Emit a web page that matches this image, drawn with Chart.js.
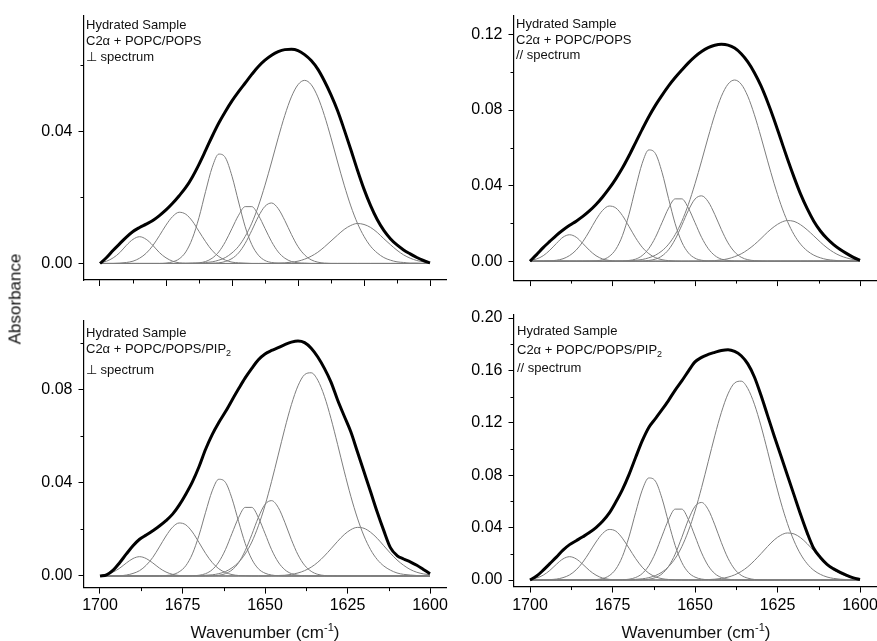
<!DOCTYPE html>
<html>
<head>
<meta charset="utf-8">
<script src="https://cdn.jsdelivr.net/npm/chart.js@4.4.1/dist/chart.umd.min.js"></script>
<style>
  html, body { margin: 0; padding: 0; background: #fff; }
  body { width: 877px; height: 641px; position: relative; overflow: hidden; font-family: 'Liberation Sans', Arial, sans-serif; }
  canvas { position: absolute; left: 0; top: 0; }
  .t { position: absolute; font-size: 13px; line-height: 16px; color: #111; white-space: nowrap; }
  .sub { font-size: 9px; position: relative; top: 3px; }
  .ax { position: absolute; font-size: 17px; line-height: 17px; color: #111; white-space: nowrap; }
  .ax sup { font-size: 11px; line-height: 0; }
</style>
</head>
<body>
<canvas id="c1" width="900" height="641"></canvas>
<canvas id="c2" width="900" height="641"></canvas>
<canvas id="c3" width="900" height="641"></canvas>
<canvas id="c4" width="900" height="641"></canvas>

<div class="t" style="left:86px;top:17px">Hydrated Sample</div>
<div class="t" style="left:86px;top:33px">C2α + POPC/POPS</div>
<div class="t" style="left:86px;top:49px">⊥ spectrum</div>

<div class="t" style="left:516px;top:16px">Hydrated Sample</div>
<div class="t" style="left:516px;top:31.5px">C2α + POPC/POPS</div>
<div class="t" style="left:516px;top:47px">// spectrum</div>

<div class="t" style="left:86px;top:324.5px">Hydrated Sample</div>
<div class="t" style="left:86px;top:341px">C2α + POPC/POPS/PIP<span class="sub">2</span></div>
<div class="t" style="left:86px;top:362px">⊥ spectrum</div>

<div class="t" style="left:517px;top:323px">Hydrated Sample</div>
<div class="t" style="left:517px;top:341.5px">C2α + POPC/POPS/PIP<span class="sub">2</span></div>
<div class="t" style="left:517px;top:360px">// spectrum</div>

<div class="ax" style="left:15px;top:299px;transform:translate(-50%,-50%) rotate(-90deg)">Absorbance</div>
<div class="ax" style="left:265px;top:624px;transform:translateX(-50%)">Wavenumber (cm<sup>-1</sup>)</div>
<div class="ax" style="left:696px;top:624px;transform:translateX(-50%)">Wavenumber (cm<sup>-1</sup>)</div>

<script>
// wavenumber grid, cm-1 (every 2 cm-1, high to low)
const wn = [1700,1698,1696,1694,1692,1690,1688,1686,1684,1682,
  1680,1678,1676,1674,1672,1670,1668,1666,1664,1662,
  1660,1658,1656,1654,1652,1650,1648,1646,1644,1642,
  1640,1638,1636,1634,1632,1630,1628,1626,1624,1622,
  1620,1618,1616,1614,1612,1610,1608,1606,1604,1602,
  1600];
const zeroX = [1700, 1600];
const zeroY = [0, 0];

// ---- C2a + POPC/POPS, perpendicular ----
const psPerp = [0,.0018,.004,.006,.008,.0097,.0109,.0119,.013,.0145,
  .0162,.0182,.0205,.023,.0262,.03,.0342,.0385,.0425,.046,
  .0492,.052,.0546,.0572,.0596,.0615,.063,.0641,.0647,.0648,
  .0644,.0632,.0614,.0588,.0552,.051,.0462,.0405,.0345,.0283,
  .0225,.0175,.0133,.01,.0075,.0056,.0041,.0029,.0018,.0009,
  .0002];
const psPerpBands = [
  [.0002,.0007,.0017,.0033,.0055,.0073,.0081,.0073,.0055,.0033,
   .0017,.0007,.0002,.0001,0,0,0,0,0,0,
   0,0,0,0,0,0,0,0,0,0, 0,0,0,0,0,0,0,0,0,0, 0,0,0,0,0,0,0,0,0,0, 0],
  [0,0,0,.0001,.0003,.0007,.0016,.0031,.0054,.0084,
   .0116,.0142,.0155,.0149,.0128,.0097,.0066,.0039,.0021,.001,
   .0004,.0002,.0001,0,0,0,0,0,0,0,
   0,0,0,0,0,0,0,0,0,0, 0,0,0,0,0,0,0,0,0,0, 0],
  [0,0,0,0,0,0,0,0,0,0,
   .0001,.0005,.0014,.0035,.0076,.0139,.0218,.0291,.0331,.032,
   .0264,.0186,.0111,.0057,.0025,.0009,.0003,.0001,0,0,
   0,0,0,0,0,0,0,0,0,0, 0,0,0,0,0,0,0,0,0,0, 0],
  [0,0,0,0,0,0,0,0,0,0,
   0,0,0,0,.0001,.0002,.0006,.0016,.0035,.0066,
   .0106,.0146,.0172,.0172,.0146,.0106,.0066,.0035,.0016,.0006,
   .0002,.0001,0,0,0,0,0,0,0,0,
   0,0,0,0,0,0,0,0,0,0, 0],
  [0,0,0,0,0,0,0,0,0,0,
   0,0,0,0,0,0,0,.0001,.0002,.0006,
   .0015,.0032,.0061,.01,.0142,.0173,.0183,.0166,.013,.0088,
   .0051,.0026,.0011,.0004,.0001,0,0,0,0,0,
   0,0,0,0,0,0,0,0,0,0, 0],
  [0,0,0,0,0,0,0,0,0,0,
   0,0,0,0,.0001,.0001,.0003,.0005,.001,.0018,
   .0032,.0052,.0082,.0122,.0174,.0237,.0307,.038,.0448,.0504,
   .0541,.0554,.0541,.0504,.0448,.038,.0307,.0237,.0174,.0122,
   .0082,.0052,.0032,.0018,.001,.0005,.0003,.0001,.0001,0,
   0],
  [0,0,0,0,0,0,0,0,0,0, 0,0,0,0,0,0,0,0,0,0,
   0,0,0,0,0,0,0,.0001,.0002,.0004,
   .0007,.0013,.0022,.0034,.005,.0068,.0086,.0103,.0115,.0121,
   .0118,.0109,.0094,.0075,.0057,.004,.0026,.0016,.0009,.0005,
   .0003]
];

// ---- C2a + POPC/POPS, parallel ----
const psPar = [0,.0035,.0072,.0105,.0137,.0165,.019,.0212,.0237,.0266,
  .03,.034,.0385,.0436,.0493,.0558,.0628,.0698,.0765,.0825,
  .0878,.0928,.0972,.1012,.105,.1083,.111,.113,.1143,.1148,
  .1144,.1128,.1098,.1055,.0998,.0928,.0843,.0748,.0645,.0542,
  .0445,.0355,.0278,.0212,.016,.012,.0088,.0062,.004,.002,
  .0004];
const psParBands = [
  [.0004,.0012,.0029,.0058,.0094,.0127,.014,.0127,.0094,.0058,
   .0029,.0012,.0004,.0001,0,0,0,0,0,0,
   0,0,0,0,0,0,0,0,0,0, 0,0,0,0,0,0,0,0,0,0, 0,0,0,0,0,0,0,0,0,0, 0],
  [0,0,.0001,.0002,.0005,.0013,.003,.0059,.0103,.0159,
   .022,.0269,.0292,.0282,.0242,.0184,.0124,.0074,.004,.0019,
   .0008,.0003,.0001,0,0,0,0,0,0,0,
   0,0,0,0,0,0,0,0,0,0, 0,0,0,0,0,0,0,0,0,0, 0],
  [0,0,0,0,0,0,0,0,0,.0001,
   .0002,.0008,.0025,.0063,.0135,.0248,.0388,.0518,.0589,.057,
   .0471,.0331,.0198,.0101,.0044,.0016,.0005,.0001,0,0,
   0,0,0,0,0,0,0,0,0,0, 0,0,0,0,0,0,0,0,0,0, 0],
  [0,0,0,0,0,0,0,0,0,0,
   0,0,0,0,.0001,.0004,.0011,.003,.0067,.0126,
   .0204,.0281,.033,.033,.0281,.0204,.0126,.0067,.003,.0011,
   .0004,.0001,0,0,0,0,0,0,0,0,
   0,0,0,0,0,0,0,0,0,0, 0],
  [0,0,0,0,0,0,0,0,0,0,
   0,0,0,0,0,0,0,.0001,.0004,.0011,
   .0028,.0061,.0116,.019,.0269,.0329,.0346,.0315,.0247,.0167,
   .0097,.0049,.0021,.0008,.0003,.0001,0,0,0,0,
   0,0,0,0,0,0,0,0,0,0, 0],
  [0,0,0,0,0,0,0,0,0,0,
   0,0,0,0,.0001,.0002,.0005,.0009,.0018,.0032,
   .0055,.009,.0141,.0211,.0301,.041,.0531,.0657,.0775,.0873,
   .0937,.0959,.0937,.0873,.0775,.0657,.0531,.041,.0301,.0211,
   .0141,.009,.0055,.0032,.0018,.0009,.0005,.0002,.0001,0,
   0],
  [0,0,0,0,0,0,0,0,0,0, 0,0,0,0,0,0,0,0,0,0,
   0,0,0,0,0,0,.0001,.0002,.0003,.0007,
   .0013,.0024,.0039,.0061,.0088,.012,.0154,.0183,.0205,.0215,
   .0211,.0193,.0166,.0134,.0101,.0071,.0047,.0029,.0017,.0009,
   .0005]
];

// ---- C2a + POPC/POPS/PIP2, perpendicular ----
const pipPerp = [0,.0005,.0025,.0058,.0095,.013,.0158,.0176,.0195,.0215,
  .0238,.0266,.0305,.0352,.0405,.047,.0545,.0608,.066,.0706,
  .0756,.0805,.0852,.0893,.093,.0955,.097,.0982,.0995,.1006,
  .1011,.1004,.098,.0942,.0893,.0834,.0757,.0688,.062,.0534,
  .0448,.0362,.0275,.0195,.0122,.0088,.0073,.0061,.0046,.0028,
  .001];
const pipPerpBands = [
  [.0002,.0007,.0017,.0034,.0056,.0075,.0083,.0075,.0056,.0034,
   .0017,.0007,.0002,.0001,0,0,0,0,0,0,
   0,0,0,0,0,0,0,0,0,0, 0,0,0,0,0,0,0,0,0,0, 0,0,0,0,0,0,0,0,0,0, 0],
  [0,0,0,.0001,.0004,.0011,.0023,.0046,.008,.0125,
   .0172,.021,.0228,.022,.0189,.0144,.0097,.0058,.0031,.0015,
   .0006,.0002,.0001,0,0,0,0,0,0,0,
   0,0,0,0,0,0,0,0,0,0, 0,0,0,0,0,0,0,0,0,0, 0],
  [0,0,0,0,0,0,0,0,0,0,
   .0002,.0006,.0018,.0044,.0095,.0175,.0274,.0366,.0416,.0403,
   .0333,.0234,.014,.0072,.0031,.0012,.0004,.0001,0,0,
   0,0,0,0,0,0,0,0,0,0, 0,0,0,0,0,0,0,0,0,0, 0],
  [0,0,0,0,0,0,0,0,0,0,
   0,0,0,0,.0001,.0003,.001,.0027,.006,.0113,
   .0183,.0251,.0295,.0295,.0251,.0183,.0113,.006,.0027,.001,
   .0003,.0001,0,0,0,0,0,0,0,0,
   0,0,0,0,0,0,0,0,0,0, 0],
  [0,0,0,0,0,0,0,0,0,0,
   0,0,0,0,0,0,0,.0001,.0003,.001,
   .0026,.0057,.0109,.0178,.0252,.0308,.0324,.0295,.0231,.0156,
   .0091,.0046,.002,.0007,.0002,.0001,0,0,0,0,
   0,0,0,0,0,0,0,0,0,0, 0],
  [0,0,0,0,0,0,0,0,0,0,
   0,0,0,0,.0001,.0001,.0003,.0005,.001,.0019,
   .0035,.0059,.0095,.0146,.0216,.0303,.0407,.052,.0634,.0737,
   .0818,.0866,.0874,.0842,.0773,.0677,.0566,.0451,.0343,.0249,
   .0172,.0113,.0071,.0043,.0025,.0013,.0007,.0004,.0002,.0001,
   0],
  [0,0,0,0,0,0,0,0,0,0, 0,0,0,0,0,0,0,0,0,0,
   0,0,0,0,0,0,.0001,.0002,.0003,.0007,
   .0013,.0023,.0038,.0059,.0086,.0117,.0149,.0178,.0199,.0209,
   .0205,.0188,.0162,.013,.0098,.0069,.0046,.0028,.0016,.0009,
   .0005]
];

// ---- C2a + POPC/POPS/PIP2, parallel ----
const pipPar = [0,.003,.0075,.0125,.0175,.0228,.027,.03,.033,.0362,
  .04,.0448,.051,.0595,.069,.0805,.0935,.1062,.1165,.1232,
  .13,.1372,.145,.152,.1595,.1665,.17,.1722,.1738,.1752,
  .1758,.1745,.1712,.165,.155,.141,.1255,.11,.095,.08,
  .065,.05,.036,.024,.0172,.012,.0085,.0058,.0035,.0016,
  .0003];
const pipParBands = [
  [.0005,.0015,.0037,.0073,.012,.0161,.0178,.0161,.012,.0073,
   .0037,.0015,.0005,.0001,0,0,0,0,0,0,
   0,0,0,0,0,0,0,0,0,0, 0,0,0,0,0,0,0,0,0,0, 0,0,0,0,0,0,0,0,0,0, 0],
  [0,0,.0001,.0003,.0007,.0018,.0039,.0078,.0136,.0211,
   .029,.0355,.0386,.0373,.0319,.0243,.0164,.0098,.0052,.0025,
   .001,.0004,.0001,0,0,0,0,0,0,0,
   0,0,0,0,0,0,0,0,0,0, 0,0,0,0,0,0,0,0,0,0, 0],
  [0,0,0,0,0,0,0,0,0,.0001,
   .0003,.0011,.0033,.0083,.0179,.0329,.0514,.0686,.0779,.0755,
   .0623,.0438,.0263,.0134,.0058,.0022,.0007,.0002,0,0,
   0,0,0,0,0,0,0,0,0,0, 0,0,0,0,0,0,0,0,0,0, 0],
  [0,0,0,0,0,0,0,0,0,0,
   0,0,0,0,.0002,.0006,.0019,.0049,.0109,.0207,
   .0335,.0461,.0541,.0541,.0461,.0335,.0207,.0109,.0049,.0019,
   .0006,.0002,0,0,0,0,0,0,0,0,
   0,0,0,0,0,0,0,0,0,0, 0],
  [0,0,0,0,0,0,0,0,0,0,
   0,0,0,0,0,0,0,.0002,.0006,.0018,
   .0047,.0104,.0198,.0325,.046,.0562,.0592,.0538,.0421,.0285,
   .0166,.0083,.0036,.0014,.0004,.0001,0,0,0,0,
   0,0,0,0,0,0,0,0,0,0, 0],
  [0,0,0,0,0,0,0,0,0,0,
   0,0,0,0,.0001,.0002,.0005,.0009,.0018,.0034,
   .006,.0102,.0165,.0254,.0375,.0526,.0706,.0903,.1101,.128,
   .1421,.1504,.1518,.1462,.1342,.1176,.0983,.0783,.0595,.0432,
   .0299,.0197,.0124,.0074,.0043,.0023,.0012,.0006,.0003,.0001,
   .0001],
  [0,0,0,0,0,0,0,0,0,0, 0,0,0,0,0,0,0,0,0,0,
   0,0,0,0,0,0,.0001,.0003,.0006,.0012,
   .0022,.0039,.0065,.0101,.0148,.0201,.0256,.0306,.0342,.0359,
   .0352,.0323,.0277,.0223,.0168,.0119,.0079,.0049,.0028,.0015,
   .0008]
];

// axis ticks
const xMajor20 = [1700, 1680, 1660, 1640, 1620, 1600];
const xMinor20 = [1690, 1670, 1650, 1630, 1610];
const xMajor25 = [1700, 1675, 1650, 1625, 1600];
const xMinor25 = [1687.5, 1662.5, 1637.5, 1612.5];
const yMajorA = [0, 0.04];
const yMinorA = [0.02, 0.06];
const yMajorB = [0, 0.04, 0.08, 0.12];
const yMinorB = [0.02, 0.06, 0.10];
const yMajorC = [0, 0.04, 0.08];
const yMinorC = [0.02, 0.06, 0.10];
const yMajorD = [0, 0.04, 0.08, 0.12, 0.16, 0.20];
const yMinorD = [0.02, 0.06, 0.10, 0.14, 0.18];

const FONT = { family: "'Liberation Sans', Arial, sans-serif", size: 16 };

function pts(ys, xs = wn) { return xs.map((x, i) => ({ x, y: ys[i] })); }

// small unlabeled ticks between the major ones
const minorTicks = {
  id: 'minorTicks',
  afterDraw(chart, args, o) {
    const { ctx, chartArea: a, scales } = chart;
    ctx.save();
    ctx.strokeStyle = '#000';
    ctx.lineWidth = 1;
    ctx.beginPath();
    (o.x || []).forEach(v => {
      const px = Math.round(scales.x.getPixelForValue(v)) + 0.5;
      ctx.moveTo(px, a.bottom); ctx.lineTo(px, a.bottom + 3.5);
    });
    (o.y || []).forEach(v => {
      const py = Math.round(scales.y.getPixelForValue(v)) + 0.5;
      ctx.moveTo(a.left, py); ctx.lineTo(a.left - 3, py);
    });
    ctx.stroke();
    ctx.restore();
  }
};

function panel(id, o) {
  const datasets = [
    { data: pts(o.spec), borderColor: '#000', borderWidth: 3 },
    ...o.bands.map(b => ({ data: pts(b), borderColor: '#7d7d7d', borderWidth: 1 })),
    { data: pts(zeroY, zeroX), borderColor: '#8c8c8c', borderWidth: 1 }
  ];
  new Chart(document.getElementById(id), {
    type: 'line',
    data: { datasets },
    options: {
      responsive: false, animation: false, events: [],
      layout: { padding: o.pad },
      elements: { point: { radius: 0 }, line: { cubicInterpolationMode: 'monotone', fill: false } },
      plugins: { legend: { display: false }, tooltip: { enabled: false }, minorTicks: { x: o.xMinor, y: o.yMinor } },
      scales: {
        x: {
          type: 'linear', reverse: true, min: 1595, max: 1705,
          afterBuildTicks: s => { s.ticks = o.xMajor.map(value => ({ value })); },
          afterFit: s => { s.height = o.xH; },
          ticks: { callback: v => o.xLabels ? String(v) : '', font: FONT, color: '#000', padding: o.xPad, maxRotation: 0, autoSkip: false },
          grid: { drawOnChartArea: false, color: '#000', tickLength: 6 },
          border: { color: '#000', width: 1.2 }
        },
        y: {
          type: 'linear', min: o.yMin, max: o.yMax,
          afterBuildTicks: s => { s.ticks = o.yMajor.map(value => ({ value })); },
          afterFit: s => { s.width = o.yW; },
          ticks: { callback: v => v.toFixed(2), font: FONT, color: '#000', padding: 6, autoSkip: false },
          grid: { drawOnChartArea: false, color: '#000', tickLength: 5 },
          border: { color: '#000', width: 1.2 }
        }
      }
    },
    plugins: [minorTicks]
  });
}

panel('c1', { spec: psPerp, bands: psPerpBands, yMin: -0.005, yMax: 0.075,
  yMajor: yMajorA, yMinor: yMinorA, xMajor: xMajor20, xMinor: xMinor20, xLabels: false,
  pad: { left: 0, top: 11.75, right: 453.5, bottom: 341 }, yW: 83.5, xH: 20, xPad: 2 });
panel('c2', { spec: psPar, bands: psParBands, yMin: -0.01, yMax: 0.13,
  yMajor: yMajorB, yMinor: yMinorB, xMajor: xMajor25, xMinor: xMinor25, xLabels: false,
  pad: { left: 440, top: 12.9, right: 23.5, bottom: 340.9 }, yW: 73.5, xH: 20, xPad: 2 });
panel('c3', { spec: pipPerp, bands: pipPerpBands, yMin: -0.005, yMax: 0.11,
  yMajor: yMajorC, yMinor: yMinorC, xMajor: xMajor25, xMinor: xMinor25, xLabels: true,
  pad: { left: 0, top: 320.25, right: 453.5, bottom: 0 }, yW: 83.5, xH: 53.4, xPad: 2 });
panel('c4', { spec: pipPar, bands: pipParBands, yMin: -0.005, yMax: 0.203,
  yMajor: yMajorD, yMinor: yMinorD, xMajor: xMajor25, xMinor: xMinor25, xLabels: true,
  pad: { left: 440, top: 314.1, right: 23.5, bottom: 0 }, yW: 73.5, xH: 54.45, xPad: 3 });
</script>
</body>
</html>
